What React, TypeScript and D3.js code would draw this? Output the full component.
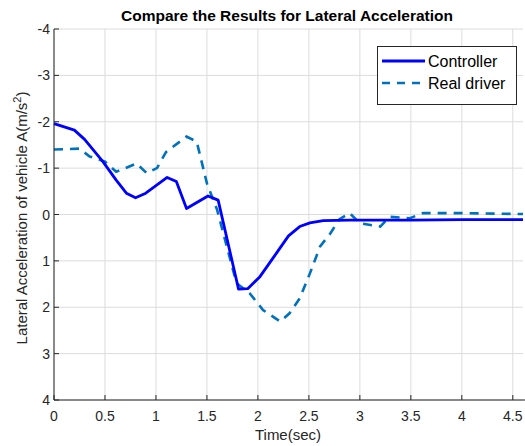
import React from 'react';
import * as d3 from 'd3';

// controller output (time in sec, lateral accel)
const controllerT = [0, 0.2, 0.3, 0.48, 0.61, 0.71, 0.8, 0.9, 1.11, 1.2, 1.3, 1.51, 1.61, 1.81, 1.9, 2.02, 2.17, 2.3, 2.41, 2.51, 2.64, 2.9, 3.5, 4.0, 4.6];
const controllerA = [-1.96, -1.82, -1.62, -1.14, -0.74, -0.46, -0.36, -0.46, -0.8, -0.71, -0.13, -0.4, -0.31, 1.61, 1.6, 1.34, 0.87, 0.46, 0.26, 0.18, 0.13, 0.12, 0.12, 0.11, 0.11];

// recorded real driver
const driverT = [0, 0.25, 0.35, 0.5, 0.61, 0.81, 0.91, 1.01, 1.1, 1.3, 1.4, 1.5, 1.6, 1.79, 1.92, 2.05, 2.22, 2.31, 2.41, 2.51, 2.61, 2.71, 2.8, 2.9, 3.0, 3.2, 3.29, 3.49, 3.62, 4.0, 4.6];
const driverA = [-1.4, -1.42, -1.25, -1.14, -0.92, -1.1, -0.89, -1.0, -1.35, -1.68, -1.57, -0.67, -0.1, 1.48, 1.7, 2.06, 2.31, 2.13, 1.81, 1.27, 0.69, 0.41, 0.1, -0.03, 0.19, 0.26, 0.05, 0.08, -0.03, -0.03, -0.01];

const xTicks = [0, 0.5, 1, 1.5, 2, 2.5, 3, 3.5, 4, 4.5];
const yTicks = [-4, -3, -2, -1, 0, 1, 2, 3, 4];

const W = 525;
const H = 446;
const left = 54, right = 523, top = 29, bottom = 400;
const font = 'Liberation Sans, Arial, sans-serif';

export default function App() {
  const x = d3.scaleLinear().domain([0, 4.6]).range([left, right]);
  const y = d3.scaleLinear().domain([-4, 4]).range([top, bottom]);

  const line = d3.line<[number, number]>()
    .x(d => x(d[0]))
    .y(d => y(d[1]));

  const ctrl = line(controllerT.map((t, i) => [t, controllerA[i]] as [number, number]));
  const drv = line(driverT.map((t, i) => [t, driverA[i]] as [number, number]));

  return (
    <svg width={W} height={H} style={{ position: 'absolute', left: 0, top: 0, background: '#fff' }}>
      <rect x={0} y={0} width={W} height={H} fill="#fff" />
      {/* grid */}
      {xTicks.map(t => (
        <line key={'gx' + t} x1={x(t)} x2={x(t)} y1={top} y2={bottom} stroke="#dcdcdc" strokeWidth={1} />
      ))}
      {yTicks.map(t => (
        <line key={'gy' + t} x1={left} x2={right} y1={y(t)} y2={y(t)} stroke="#dcdcdc" strokeWidth={1} />
      ))}

      {/* series */}
      <path d={drv || ''} fill="none" stroke="#0072BD" strokeWidth={2.6} strokeDasharray="9,7" />
      <path d={ctrl || ''} fill="none" stroke="#0000FF" strokeWidth={2.8} strokeLinejoin="round" />

      {/* axes */}
      <line x1={left} x2={left} y1={top} y2={bottom} stroke="#262626" strokeWidth={1} />
      <line x1={left} x2={right + 2} y1={bottom} y2={bottom} stroke="#262626" strokeWidth={1} />
      {xTicks.map(t => (
        <g key={'xt' + t}>
          <line x1={x(t)} x2={x(t)} y1={bottom} y2={bottom - 5} stroke="#262626" />
          <text x={x(t)} y={bottom + 21} textAnchor="middle" fontFamily={font} fontSize={14} fill="#262626">{t}</text>
        </g>
      ))}
      {yTicks.map(t => (
        <g key={'yt' + t}>
          <line x1={left} x2={left + 5} y1={y(t)} y2={y(t)} stroke="#262626" />
          <text x={left - 4} y={y(t) + 5} textAnchor="end" fontFamily={font} fontSize={14} fill="#262626">{t}</text>
        </g>
      ))}

      {/* labels */}
      <text x={287} y={21} textAnchor="middle" fontFamily={font} fontSize={15.5} fontWeight="bold" fill="#000">
        Compare the Results for Lateral Acceleration
      </text>
      <text x={288} y={440} textAnchor="middle" fontFamily={font} fontSize={15} fill="#262626">Time(sec)</text>
      <text transform={`translate(27,218) rotate(-90)`} textAnchor="middle" fontFamily={font} fontSize={15} fill="#262626">
        Lateral Acceleration of vehicle A(m/s<tspan fontSize={11} dy={-6}>2</tspan><tspan dy={6}>)</tspan>
      </text>

      {/* legend */}
      <rect x={377.5} y={46.5} width={139} height={58} fill="#fff" stroke="#262626" strokeWidth={1} />
      <line x1={382} x2={425} y1={61} y2={61} stroke="#0000FF" strokeWidth={2.8} />
      <text x={428} y={66.5} fontFamily={font} fontSize={16} fill="#000">Controller</text>
      <line x1={382} x2={425} y1={83} y2={83} stroke="#0072BD" strokeWidth={2.6} strokeDasharray="8,7" />
      <text x={428} y={88.5} fontFamily={font} fontSize={16} fill="#000">Real driver</text>
    </svg>
  );
}
